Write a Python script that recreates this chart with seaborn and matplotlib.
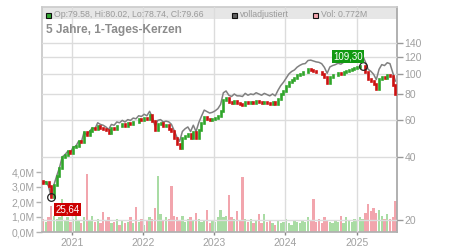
import numpy as np
import pandas as pd
import matplotlib
matplotlib.use("Agg")
import matplotlib.pyplot as plt
import matplotlib.dates as mdates
from matplotlib.patches import Rectangle
from matplotlib.ticker import NullLocator, FixedLocator, FixedFormatter
import seaborn as sns

# ---------------- data ----------------
start_date = "2020-08-07"
step_days = 14
close = [30.0, 30.5, 29.0, 25.64, 29.5, 32.5, 35.5, 40.0, 41.0, 42.5,
         42.0, 44.5, 45.0, 47.5, 47.0, 52.5, 51.0, 53.0, 55.0, 54.5,
         56.0, 55.0, 54.5, 53.5, 52.0, 55.0, 54.5, 56.5, 56.0, 57.5,
         56.5, 58.0, 57.5, 59.0, 58.5, 60.5, 60.0, 61.5, 60.5, 63.5,
         59.5, 54.0, 57.5, 58.0, 56.5, 57.0, 54.5, 53.0, 49.5, 46.0,
         44.0, 49.0, 50.5, 51.5, 49.0, 52.5, 49.0, 54.0, 58.0, 62.0,
         61.0, 60.0, 60.5, 61.5, 63.0, 66.0, 75.0, 76.5, 73.0, 72.0,
         74.0, 72.5, 71.5, 71.0, 73.5, 72.0, 73.0, 72.5, 74.0, 73.0,
         72.0, 73.5, 72.5, 71.5, 73.0, 71.5, 76.0, 80.0, 83.0, 87.0,
         91.0, 93.5, 95.0, 98.0, 100.0, 101.5, 102.0, 105.5, 104.0, 103.0,
         102.0, 101.5, 100.0, 96.0, 90.0, 96.5, 98.0, 99.0, 100.5, 99.5,
         101.5, 102.5, 103.5, 105.0, 106.5, 107.0, 108.5, 109.3, 102.0, 94.0,
         92.0, 89.0, 84.0, 94.0, 96.0, 95.0, 98.0, 97.0, 88.0, 80.0]
first_open = 30.8
volume_m = [0.9, 0.7, 1.0, 1.75, 1.1, 0.9, 1.0, 2.2, 0.8, 1.0,
            0.7, 0.9, 1.2, 0.8, 0.6, 1.0, 3.9, 0.8, 1.1, 0.7,
            0.9, 0.6, 1.35, 0.8, 1.0, 0.6, 0.7, 0.9, 0.5, 0.8,
            0.6, 0.7, 1.0, 0.6, 1.7, 0.7, 0.9, 0.5, 0.8, 1.0,
            0.9, 1.6, 3.75, 1.2, 0.8, 1.0, 0.9, 3.1, 1.1, 1.0,
            0.8, 1.1, 0.7, 0.9, 1.0, 0.8, 1.25, 0.9, 0.7, 0.8,
            1.47, 0.6, 0.8, 0.7, 1.0, 1.5, 1.0, 1.1, 2.5, 1.0,
            0.9, 1.4, 0.8, 3.7, 0.9, 0.7, 0.9, 0.6, 0.8, 1.2,
            0.6, 1.2, 0.7, 0.8, 0.6, 0.5, 0.8, 0.6, 0.7, 0.9,
            0.6, 0.5, 0.8, 0.7, 0.6, 0.8, 0.7, 1.0, 0.8, 2.2,
            0.7, 0.9, 0.6, 1.0, 0.8, 0.7, 0.6, 0.8, 0.7, 1.1,
            0.6, 1.0, 0.8, 0.7, 0.9, 0.8, 1.0, 0.9, 1.3, 1.9,
            1.4, 1.6, 1.3, 1.5, 1.1, 0.9, 1.2, 0.9, 1.0, 2.1]
# total-return adjustment factor (step changes at dividend dates)
adj_dates = ["2020-08-01", "2021-05-01", "2022-05-01", "2023-05-01", "2024-05-01", "2025-05-01"]
adj_factor = [1.00, 1.04, 1.08, 1.095, 1.115, 1.15]

price_ticks = [20, 40, 60, 80, 100, 120, 140]
vol_ticks = [0, 1, 2, 3, 4]
vol_tick_labels = ["0,0M", "1,0M", "2,0M", "3,0M", "4,0M"]
years = [2021, 2022, 2023, 2024, 2025]
x_start, x_end = "2020-07-31", "2025-07-26"
legend_ohlc = "Op:79.58, Hi:80.02, Lo:78.74, Cl:79.66"
legend_adj = "volladjustiert"
legend_vol = "Vol: 0.772M"
title = "5 Jahre, 1-Tages-Kerzen"

# ---------------- derived frame ----------------
dates = pd.date_range(start_date, periods=len(close), freq=f"{step_days}D")
opens = [first_open] + close[:-1]
df = pd.DataFrame({"date": dates, "open": opens, "close": close, "vol": volume_m})
df["up"] = df["close"] >= df["open"]
fac_idx = np.searchsorted(pd.to_datetime(adj_dates).values, df["date"].values, side="right") - 1
df["adj"] = df["close"] * np.array(adj_factor)[fac_idx]

# ---------------- style ----------------
sns.set_theme(style="white")
plt.rcParams["font.family"] = ["Liberation Sans", "DejaVu Sans"]

W, H = 450, 250
L, R, B, T = 41.7, 397.0, 232.0, 7.0
fig = plt.figure(figsize=(W / 100, H / 100), dpi=100)
ax_v = fig.add_axes([L / W, 1 - B / H, (R - L) / W, (B - T) / H])
ax_p = ax_v.twinx()

GREEN = "#2fa52a"
RED = "#cc1111"
VGREEN = "#a9dca4"
VPINK = "#f2a5ad"
TICKC = "#a0a0a0"
GRID = "#dcdcdc"

# volume bars
vcol = [VGREEN if u else VPINK for u in df["up"]]
ax_v.bar(df["date"], df["vol"], width=step_days * 0.85, color=vcol, linewidth=0, zorder=2)
ax_v.set_ylim(0, (B - T) / 15.0)
ax_v.yaxis.set_major_locator(FixedLocator(vol_ticks))
ax_v.yaxis.set_major_formatter(FixedFormatter(vol_tick_labels))
ax_v.set_xlim(pd.Timestamp(x_start), pd.Timestamp(x_end))
ax_v.set_xticks([pd.Timestamp(f"{y}-01-01") for y in years])
ax_v.set_xticklabels([str(y) for y in years])
ax_v.tick_params(axis="y", left=True, length=4, width=1, color="#b0b0b0",
                 labelsize=7.5, labelcolor=TICKC, pad=1)
ax_v.tick_params(axis="x", bottom=True, length=2, width=1, color="#888888",
                 labelsize=7.5, labelcolor=TICKC, pad=2.5)
ax_v.grid(False)

# legend band
ax_v.add_patch(Rectangle((0, (B - 19) / (B - T)), 1, 12 / (B - T), transform=ax_v.transAxes,
                         facecolor="#e6e6e6", edgecolor="none", zorder=0.5))

# price axis (log)
ax_p.set_yscale("log")
lo = 20 * np.exp(-(B - 220) / 90.96)
hi = lo * np.exp((B - T) / 90.96)
ax_p.set_ylim(lo, hi)
ax_p.yaxis.set_major_locator(FixedLocator(price_ticks))
ax_p.yaxis.set_major_formatter(FixedFormatter([str(t) for t in price_ticks]))
ax_p.yaxis.set_minor_locator(NullLocator())
ax_p.tick_params(axis="y", right=True, length=4, width=1, color="#999999",
                 labelsize=7.5, labelcolor=TICKC, pad=1.5)
ax_p.grid(True, axis="y", color=GRID, linewidth=1, zorder=1)
for y in years:
    ax_p.axvline(pd.Timestamp(f"{y}-01-01"), color=GRID, linewidth=1, zorder=1)

# adjusted line
sns.lineplot(data=df, x="date", y="adj", color="#808080", linewidth=1.1, ax=ax_p, zorder=3)

# candles
ccol = [GREEN if u else RED for u in df["up"]]
lc = ax_p.vlines(df["date"], df["open"], df["close"], colors=ccol, linewidth=1.9, zorder=4)
lc.set_capstyle("projecting")
ax_p.set_xlabel("")
ax_p.set_ylabel("")
ax_v.set_xlabel("")
ax_v.set_ylabel("")

# min / max markers
imin = int(df["close"].idxmin())
imax = int(df["close"].idxmax())
for i, fc, off, ha, va in [(imin, "#cc0000", (3, -5), "left", "top"),
                           (imax, "#119911", (0, 3), "right", "bottom")]:
    d, v = df["date"][i], df["close"][i]
    ax_p.plot([d], [v], marker="o", markersize=5.5, markerfacecolor="none",
              markeredgecolor="#222222", markeredgewidth=0.9, zorder=5)
    ax_p.annotate(f"{v:.2f}".replace(".", ","), xy=(d, v), xytext=off, textcoords="offset points",
                  ha=ha, va=va, fontsize=7, color="white", zorder=6,
                  bbox=dict(boxstyle="square,pad=0.15", facecolor=fc, edgecolor="none"))

# spines
for s in ["left", "top", "bottom", "right"]:
    ax_p.spines[s].set_visible(False)
ax_v.spines["right"].set_visible(True)
ax_v.spines["right"].set_color("#aaaaaa")
ax_v.spines["right"].set_linewidth(1.3)
ax_v.spines["left"].set_color("#c8c8c8")
ax_v.spines["top"].set_color("#cccccc")
ax_v.spines["bottom"].set_color("#b0b0b0")
for s in ax_v.spines.values():
    s.set_zorder(10)

# legend items
def fx(x):
    return x / W
def fy(y):
    return 1 - y / H
items = [(46, "#33aa33", legend_ohlc), (231.5, "#606060", legend_adj), (312.5, "#f2a5ad", legend_vol)]
for x0, c, txt in items:
    fig.patches.append(Rectangle((fx(x0), fy(17.5)), 5 / W, 5 / H, transform=fig.transFigure,
                                 facecolor=c, edgecolor="#111111", linewidth=0.8))
    fig.text(fx(x0 + 8.5), fy(14.8), txt, fontsize=6.3, color="#9a9a9a", va="center", ha="left")

fig.text(fx(46.5), fy(30.5), title, fontsize=8.6, fontweight="bold", color="#8c8c8c",
         va="center", ha="left")

fig.savefig("out.png", dpi=100)
